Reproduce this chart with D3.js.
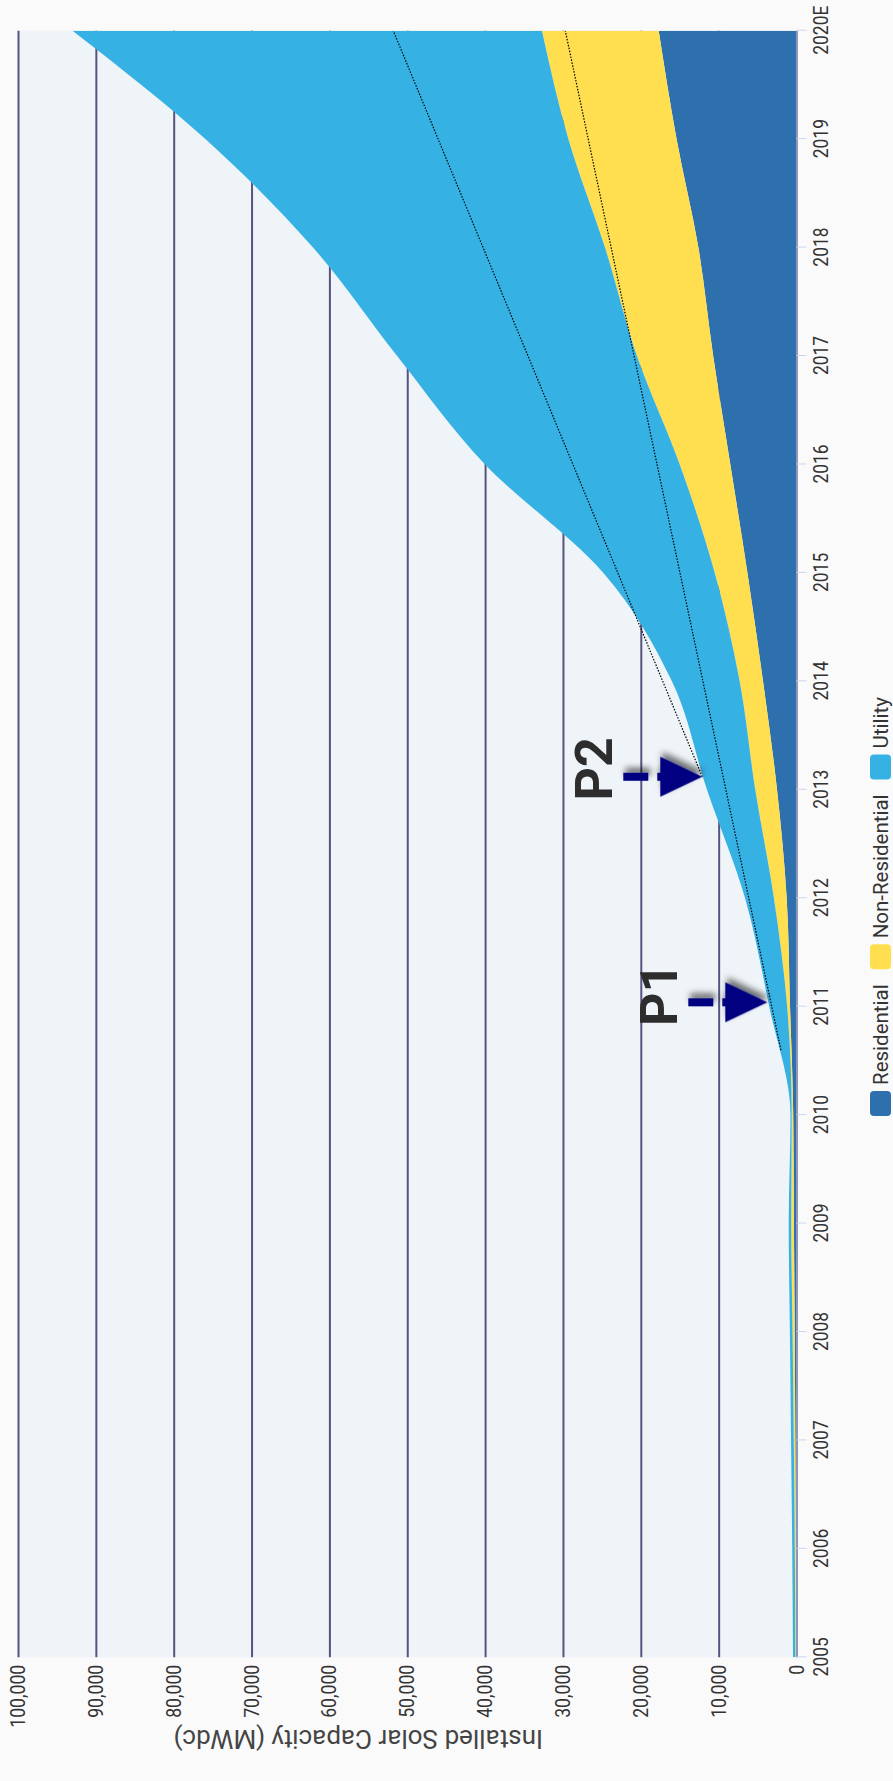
<!DOCTYPE html>
<html>
<head>
<meta charset="utf-8">
<script src="https://cdn.jsdelivr.net/npm/d3@7"></script>
<style>
  html, body { margin: 0; padding: 0; background: #fafafa; }
  svg { display: block; }
  text { font-family: Roboto, "Noto Sans", sans-serif; }
</style>
</head>
<body>
<svg id="chart" width="893" height="1781"></svg>
<script>
// Cumulative installed capacity (MWdc) by segment
const years = [2005, 2006, 2007, 2008, 2009, 2010, 2011, 2012, 2013, 2014, 2015, 2016, 2017, 2018, 2019, 2020];
const yearLabels = ["2005", "2006", "2007", "2008", "2009", "2010", "2011", "2012", "2013", "2014", "2015", "2016", "2017", "2018", "2019", "2020E"];
const residential    = [60, 90, 150, 230, 330, 420, 830, 1260, 2500, 4300, 6300, 8500, 10700, 12600, 15400, 17700];
const nonResidential = [90, 130, 200, 280, 350, 200, 370, 1640, 2800, 3000, 4200, 6500, 9800, 12000, 13900, 15000];
const utility        = [300, 330, 350, 340, 320, 150, 2300, 3700, 6200, 8700, 14300, 25000, 30800, 37500, 46600, 60300];
const valueTicks = [0, 10000, 20000, 30000, 40000, 50000, 60000, 70000, 80000, 90000, 100000];
const seriesNames = ["Residential", "Non-Residential", "Utility"];
const seriesColors = ["#2e6fad", "#ffdf4f", "#36b1e4"];

// Straight-line projections from the two reference points
const trendP1 = [{ year: 2010.6, value: 2000 }, { year: 2020, value: 29700 }];
const trendP2 = [{ year: 2013.12, value: 12100 }, { year: 2020, value: 51800 }];
const markers = [
  { label: "P1", year: 2011.04, value: 3750 },
  { label: "P2", year: 2013.12, value: 12100 }
];
const axisTitle = "Installed Solar Capacity (MWdc)";

// The chart is laid out in a landscape frame, then turned a quarter turn counter-clockwise.
const W = 1781, H = 893;
const plot = { left: 123.7, right: 1750.3, top: 18, bottom: 796.5 };

const svg = d3.select("#chart");
const defs = svg.append("defs");
defs.append("clipPath").attr("id", "plot-clip")
  .append("rect")
  .attr("x", plot.left).attr("y", plot.top)
  .attr("width", plot.right - plot.left).attr("height", plot.bottom - plot.top);
const shadow = defs.append("filter").attr("id", "arrow-shadow")
  .attr("x", "-50%").attr("y", "-50%").attr("width", "200%").attr("height", "200%");
shadow.append("feDropShadow")
  .attr("dx", 5).attr("dy", 2).attr("stdDeviation", 3)
  .attr("flood-color", "#000").attr("flood-opacity", 0.55);

const root = svg.append("g").attr("transform", `translate(0,${W}) rotate(-90)`);

const x = d3.scaleLinear().domain([2005, 2020]).range([plot.left, plot.right]);
const y = d3.scaleLinear().domain([0, 100000]).range([plot.bottom, plot.top]);

// squeeze tick labels to a narrower face
function squeeze(sel, k) {
  sel.each(function () {
    const len = this.getComputedTextLength();
    d3.select(this).attr("textLength", len * k).attr("lengthAdjust", "spacingAndGlyphs");
  });
}

// plot background
root.append("rect")
  .attr("x", plot.left).attr("y", plot.top)
  .attr("width", plot.right - plot.left).attr("height", plot.bottom - plot.top)
  .attr("fill", "#eff4f8");

// value axis with grid lines
const yAxis = root.append("g")
  .attr("transform", `translate(${plot.left},0)`)
  .call(d3.axisLeft(y).tickValues(valueTicks).tickFormat(d3.format(","))
    .tickSize(-(plot.right - plot.left)).tickPadding(7.5));
yAxis.attr("font-size", null).attr("font-family", null);
yAxis.select(".domain").remove();
yAxis.selectAll(".tick line").attr("stroke", "#56547f").attr("stroke-width", 2);
yAxis.selectAll(".tick text")
  .attr("fill", "#333").style("font-size", "20.5px");
squeeze(yAxis.selectAll(".tick text"), 0.86);

// stacked areas
const rows = years.map((yr, i) => ({
  year: yr,
  "Residential": residential[i],
  "Non-Residential": nonResidential[i],
  "Utility": utility[i]
}));
const layers = d3.stack().keys(seriesNames)(rows);
const area = d3.area()
  .curve(d3.curveMonotoneX)
  .x(d => x(d.data.year))
  .y0(d => y(d[0]))
  .y1(d => y(d[1]));
root.append("g").attr("clip-path", "url(#plot-clip)")
  .selectAll("path").data(layers).join("path")
  .attr("d", area)
  .attr("fill", (d, i) => seriesColors[i]);

// year axis
const xAxis = root.append("g")
  .attr("transform", `translate(0,${plot.bottom})`)
  .call(d3.axisBottom(x).tickValues(years).tickFormat((d, i) => yearLabels[i])
    .tickSize(10).tickSizeOuter(0).tickPadding(6.5));
xAxis.attr("font-size", null).attr("font-family", null);
xAxis.select(".domain").attr("stroke", "#ccd6eb");
xAxis.selectAll(".tick line").attr("stroke", "#ccd6eb");
xAxis.selectAll(".tick text").attr("fill", "#333").style("font-size", "20.5px");
squeeze(xAxis.selectAll(".tick text"), 0.85);

// projection lines
const trendLine = d3.line().x(d => x(d.year)).y(d => y(d.value));
root.append("g").attr("clip-path", "url(#plot-clip)")
  .selectAll("path").data([trendP1, trendP2]).join("path")
  .attr("d", trendLine)
  .attr("fill", "none")
  .attr("stroke", "#000")
  .attr("stroke-width", 1.2)
  .attr("stroke-dasharray", "1.5,1.5");

// P1 / P2 call-outs
const callouts = root.append("g").selectAll("g").data(markers).join("g")
  .attr("transform", d => `translate(${x(d.year)},${y(d.value)})`);
const arrows = callouts.append("g").attr("filter", "url(#arrow-shadow)");
arrows.append("line")
  .attr("x1", 0).attr("x2", 0).attr("y1", -79).attr("y2", -40)
  .attr("stroke", "#000080").attr("stroke-width", 8)
  .attr("stroke-dasharray", "25,9");
arrows.append("path")
  .attr("d", "M-20,-42 L20,-42 L0,0 Z")
  .attr("fill", "#000080");
callouts.append("text")
  .attr("x", 8).attr("y", -90)
  .attr("text-anchor", "middle")
  .attr("fill", "#2d2d2d")
  .style("font-size", "52px").style("font-weight", "bold")
  .text(d => d.label);

// legend
const legend = root.append("g").attr("transform", "translate(665,870)");
let cursor = 0;
seriesNames.forEach((name, i) => {
  const item = legend.append("g").attr("transform", `translate(${cursor},0)`);
  item.append("rect")
    .attr("width", 25).attr("height", 21).attr("rx", 4)
    .attr("fill", seriesColors[i]);
  const t = item.append("text")
    .attr("x", 31).attr("y", 18)
    .attr("fill", "#333").style("font-size", "20.5px")
    .text(name);
  cursor += 31 + t.node().getComputedTextLength() + 15;
});

// value axis title
root.append("text")
  .attr("transform", `translate(51,${(plot.top + plot.bottom) / 2 - 49}) rotate(-90)`)
  .attr("text-anchor", "middle")
  .attr("fill", "#444")
  .style("font-size", "26px")
  .text(axisTitle);
</script>
</body>
</html>
